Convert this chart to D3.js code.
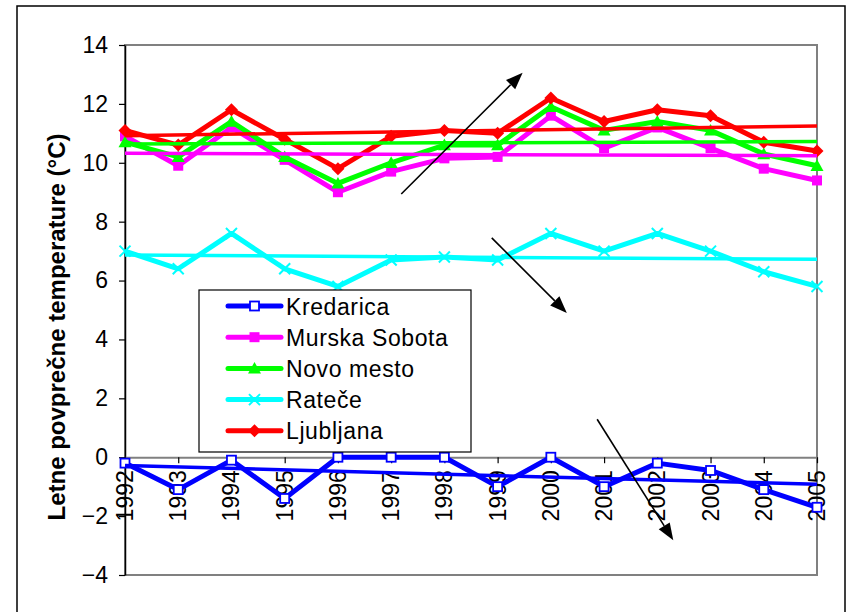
<!DOCTYPE html>
<html>
<head>
<meta charset="utf-8">
<script src="https://cdn.jsdelivr.net/npm/d3@7"></script>
<style>
  html, body { margin: 0; padding: 0; background: #fff; }
  svg { display: block; }
  text { font-family: "Liberation Sans", Arial, sans-serif; }
</style>
</head>
<body>
<svg id="chart" width="848" height="612"></svg>
<script>
// ---- data ----
const years = [1992,1993,1994,1995,1996,1997,1998,1999,2000,2001,2002,2003,2004,2005];
const seriesNames = ["Kredarica","Murska Sobota","Novo mesto","Rateče","Ljubljana"];
const kredarica = [-0.2,-1.1,-0.1,-1.4,0.0,0.0,0.0,-1.0,0.0,-1.0,-0.2,-0.45,-1.1,-1.7];
const murskaSobota = [10.9,9.9,11.2,10.1,9.0,9.7,10.15,10.2,11.6,10.5,11.2,10.5,9.8,9.4];
const novoMesto = [10.7,10.2,11.4,10.2,9.3,10.0,10.6,10.6,11.9,11.1,11.4,11.1,10.3,9.9];
const ratece = [7.0,6.4,7.6,6.4,5.8,6.7,6.8,6.7,7.6,7.0,7.6,7.0,6.3,5.8];
const ljubljana = [11.1,10.6,11.8,10.8,9.8,10.9,11.1,11.0,12.2,11.4,11.8,11.6,10.7,10.4];
// trend line values at 1992 and 2005, per series
const trendStart = [-0.28, 10.32, 10.64, 6.87, 10.92];
const trendEnd   = [-0.92, 10.24, 10.72, 6.72, 11.25];
const yTicks = [-4,-2,0,2,4,6,8,10,12,14];
const yTitle = "Letne povprečne temperature (°C)";
// annotation arrows in data units [year, value]
const arrows = [
  {from:[1997.19, 8.94], to:[1999.47, 13.06]},
  {from:[1998.89, 7.45], to:[2000.30, 4.90]},
  {from:[2000.87, 1.29], to:[2002.30, -2.82]}
];

// ---- styles ----
const colors = ["#0000ff","#ff00ff","#00ff00","#00ffff","#ff0000"];
const markers = ["openSquare","square","triangle","x","diamond"];
const allValues = [kredarica, murskaSobota, novoMesto, ratece, ljubljana];

const svg = d3.select("#chart");
const L = 125, R = 817, T = 45, B = 575;
const x = d3.scaleLinear().domain([years[0], years[years.length-1]]).range([L, R]);
const y = d3.scaleLinear().domain([-4, 14]).range([B, T]);

// chart border
svg.append("rect").attr("x",17).attr("y",6).attr("width",828).attr("height",640)
  .attr("fill","#fff").attr("stroke","#000").attr("stroke-width",1.5);

// plot area border
svg.append("rect").attr("x",L).attr("y",T).attr("width",R-L).attr("height",B-T)
  .attr("fill","none").attr("stroke","#808080").attr("stroke-width",2);

// y axis
const yAxis = svg.append("g").attr("transform",`translate(${L},0)`)
  .call(d3.axisLeft(y).tickValues(yTicks).tickSize(6).tickSizeOuter(0).tickPadding(11));
yAxis.select(".domain").attr("stroke","#000").attr("stroke-width",1.5);
yAxis.selectAll(".tick line").attr("stroke","#000").attr("stroke-width",1.2);
yAxis.selectAll(".tick text").attr("font-size",23).attr("fill","#000")
  .attr("font-family","Liberation Sans, Arial, sans-serif");

// x axis at 0
const y0 = y(0);
const xAxis = svg.append("g").attr("transform",`translate(0,${y0})`)
  .call(d3.axisBottom(x).tickValues(years).tickSize(6).tickSizeOuter(0).tickFormat(""));
xAxis.select(".domain").attr("stroke","#808080").attr("stroke-width",2);
xAxis.selectAll(".tick line").attr("stroke","#000").attr("stroke-width",1.2);
xAxis.selectAll(".tick").append("text")
  .attr("transform","translate(7.5,13) rotate(-90)")
  .attr("text-anchor","end").attr("fill","#000").attr("font-size",23)
  .attr("font-family","Liberation Sans, Arial, sans-serif")
  .text((d,i)=>String(years[i]));

// y title
svg.append("text")
  .attr("transform",`translate(65,${(T+B)/2+17}) rotate(-90)`)
  .attr("text-anchor","middle").attr("font-size",24).attr("font-weight","bold")
  .attr("fill","#000").text(yTitle);

// marker drawing
function drawMarker(g, type, color, cx, cy, scale) {
  const s = scale || 1;
  if (type === "openSquare") {
    g.append("rect").attr("x",cx-4.5*s).attr("y",cy-4.5*s).attr("width",9*s).attr("height",9*s)
      .attr("fill","#fff").attr("stroke",color).attr("stroke-width",1.8);
  } else if (type === "square") {
    g.append("rect").attr("x",cx-5*s).attr("y",cy-5*s).attr("width",10*s).attr("height",10*s)
      .attr("fill",color);
  } else if (type === "triangle") {
    const h = 6.5*s;
    g.append("path").attr("d",`M${cx},${cy-h}L${cx+h},${cy+h*0.8}L${cx-h},${cy+h*0.8}Z`).attr("fill",color);
  } else if (type === "x") {
    const h = 5.5*s;
    g.append("path").attr("d",`M${cx-h},${cy-h}L${cx+h},${cy+h}M${cx+h},${cy-h}L${cx-h},${cy+h}`)
      .attr("stroke",color).attr("stroke-width",2).attr("fill","none");
  } else if (type === "diamond") {
    const h = 6.5*s;
    g.append("path").attr("d",`M${cx},${cy-h}L${cx+h},${cy}L${cx},${cy+h}L${cx-h},${cy}Z`).attr("fill",color);
  }
}

// data lines
const line = d3.line().x((d,i)=>x(years[i])).y(d=>y(d));
const dataG = svg.append("g");
allValues.forEach((vals, si) => {
  const g = dataG.append("g");
  g.append("path").datum(vals).attr("d", line).attr("fill","none")
    .attr("stroke", colors[si]).attr("stroke-width", 5).attr("stroke-linejoin","round");
  vals.forEach((v,i)=> drawMarker(g, markers[si], colors[si], x(years[i]), y(v)));
});

// trend lines
const trendG = svg.append("g");
seriesNames.forEach((name, si) => {
  const x1 = years[0], x2 = years[years.length-1];
  trendG.append("line").attr("x1",x(x1)).attr("y1",y(trendStart[si])).attr("x2",x(x2)).attr("y2",y(trendEnd[si]))
    .attr("stroke",colors[si]).attr("stroke-width",3.5);
});

// arrows
const arrowG = svg.append("g");
arrows.forEach(a => {
  const x1 = x(a.from[0]), y1 = y(a.from[1]), x2 = x(a.to[0]), y2 = y(a.to[1]);
  const ang = Math.atan2(y2-y1, x2-x1);
  const len = 17, hw = 6.5;
  const bx = x2 - len*Math.cos(ang), by = y2 - len*Math.sin(ang);
  arrowG.append("line").attr("x1",x1).attr("y1",y1).attr("x2",bx).attr("y2",by)
    .attr("stroke","#000").attr("stroke-width",1.6);
  const px = -Math.sin(ang)*hw, py = Math.cos(ang)*hw;
  arrowG.append("path").attr("d",`M${x2},${y2}L${bx+px},${by+py}L${bx-px},${by-py}Z`).attr("fill","#000");
});

// legend
const lg = svg.append("g");
lg.append("rect").attr("x",199).attr("y",290).attr("width",272).attr("height",162)
  .attr("fill","#fff").attr("stroke","#000").attr("stroke-width",1.2);
seriesNames.forEach((name, si) => {
  const ly = 306 + si*31.2;
  lg.append("line").attr("x1",228).attr("x2",281).attr("y1",ly).attr("y2",ly)
    .attr("stroke",colors[si]).attr("stroke-width",5).attr("stroke-linecap","round");
  drawMarker(lg, markers[si], colors[si], 254.5, ly);
  lg.append("text").attr("x",286).attr("y",ly+8.5).attr("font-size",23).attr("fill","#000")
    .attr("letter-spacing",0.6).text(name);
});
</script>
</body>
</html>
